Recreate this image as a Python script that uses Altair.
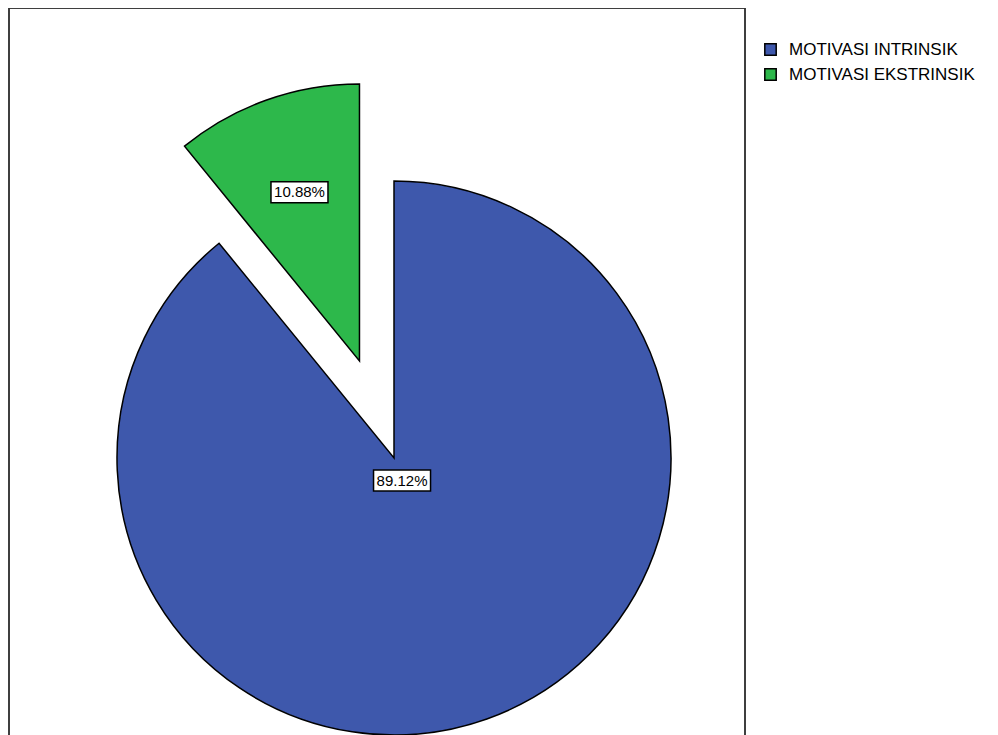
import altair as alt
import pandas as pd

categories = ["MOTIVASI INTRINSIK", "MOTIVASI EKSTRINSIK"]
percent = [89.12, 10.88]
labels = ["89.12%", "10.88%"]
exploded = [0, 1]
slice_order = [0, 1]
colors = ["#3E58AC", "#2DB84B"]

df = pd.DataFrame({
    "category": categories,
    "pct": percent,
    "label": labels,
    "explode": exploded,
    "order": slice_order,
})

W, H = 736, 727
CX, CY = 385, 450
R = 277
EXPLODE = 103

base = (
    alt.Chart(df)
    .transform_joinaggregate(total="sum(pct)")
    .transform_window(cum="sum(pct)", sort=[{"field": "order"}])
    .transform_calculate(
        start="2*PI*(datum.cum - datum.pct)/datum.total",
        end="2*PI*datum.cum/datum.total",
    )
    .transform_calculate(mid="(datum.start + datum.end)/2")
    .transform_calculate(
        cx=f"{CX} + datum.explode*{EXPLODE}*sin(datum.mid)",
        cy=f"{CY} - datum.explode*{EXPLODE}*cos(datum.mid)",
        lr="datum.explode ? 179 : 24",
    )
    .transform_calculate(
        lx="datum.cx + datum.lr*sin(datum.mid)",
        ly="datum.cy - datum.lr*cos(datum.mid)",
    )
    .transform_calculate(
        bx1="datum.lx - 28.5", bx2="datum.lx + 28.5",
        by1="datum.ly - 10.5", by2="datum.ly + 10.5",
    )
)

arcs = base.mark_arc(outerRadius=R, stroke="black", strokeWidth=1.5, strokeJoin="miter").encode(
    theta=alt.Theta("start:Q", scale=None),
    theta2="end:Q",
    x=alt.X("cx:Q", scale=None, axis=None),
    y=alt.Y("cy:Q", scale=None, axis=None),
    color=alt.Color(
        "category:N",
        scale=alt.Scale(domain=categories, range=colors),
        legend=alt.Legend(
            title=None,
            orient="none",
            legendX=753,
            legendY=33,
            symbolType="square",
            symbolSize=130,
            symbolStrokeColor="black",
            symbolStrokeWidth=1.5,
            symbolOpacity=1,
            labelFont="Liberation Sans",
            labelFontSize=17,
            labelColor="black",
            rowPadding=6,
            padding=0,
            labelOffset=10,
            labelLimit=400,
        ),
    ),
    order=alt.Order("order:Q"),
)

boxes = base.mark_rect(fill="white", stroke="black", strokeWidth=1.5).encode(
    x=alt.X("bx1:Q", scale=None, axis=None),
    x2="bx2:Q",
    y=alt.Y("by1:Q", scale=None, axis=None),
    y2="by2:Q",
)

texts = base.mark_text(font="Liberation Sans", fontSize=15, color="black", align="center", baseline="middle").encode(
    x=alt.X("lx:Q", scale=None, axis=None),
    y=alt.Y("ly:Q", scale=None, axis=None),
    text="label:N",
)

frame_left = alt.Chart(df).mark_rule(color="#333333", strokeWidth=1.5).encode(
    x=alt.value(0), y=alt.value(0), y2=alt.value(H + 40)
)
frame_right = alt.Chart(df).mark_rule(color="#333333", strokeWidth=1.5).encode(
    x=alt.value(W), y=alt.value(0), y2=alt.value(H + 40)
)
frame_top = alt.Chart(df).mark_rule(color="#333333", strokeWidth=1.5).encode(
    x=alt.value(0), x2=alt.value(W), y=alt.value(0)
)

chart = (
    alt.layer(arcs, boxes, texts, frame_left, frame_right, frame_top)
    .properties(
        width=W,
        height=H,
        autosize="none",
        padding={"left": 1, "top": 0, "right": 236, "bottom": 0},
        background="white",
    )
    .configure_view(stroke=None)
)

chart.save("out.html", embed_options={"renderer": "svg", "actions": False})
